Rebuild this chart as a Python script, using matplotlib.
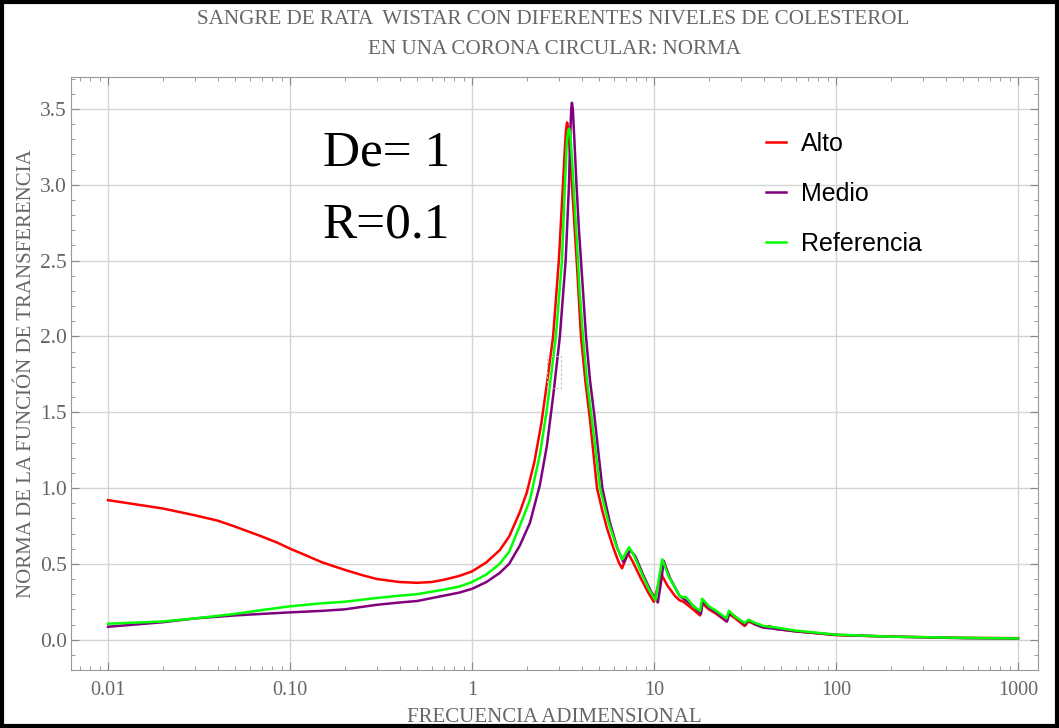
import numpy as np
import matplotlib
matplotlib.use("Agg")
import matplotlib.pyplot as plt
from matplotlib.ticker import FixedLocator, FixedFormatter, LogLocator, NullFormatter, MultipleLocator
from matplotlib.patches import Rectangle

# datos
freq_alto = [0.01, 0.02, 0.03, 0.04, 0.05, 0.06, 0.07, 0.085, 0.1, 0.12, 0.15, 0.2, 0.25, 0.3,
             0.4, 0.5, 0.6, 0.7, 0.85, 1.0, 1.2, 1.42, 1.6, 1.83, 2.0, 2.2, 2.4, 2.58, 2.79,
             3.0, 3.16, 3.24, 3.29, 3.33, 3.38, 3.45, 3.55, 3.66, 3.78, 3.97, 4.2, 4.45,
             4.86, 5.2, 5.5, 6.0, 6.4, 6.67, 7.2, 7.6, 8.5, 9.3, 9.97, 10.5, 11.0, 11.8,
             13.0, 13.8, 14.5, 16.0, 17.9, 18.4, 20.0, 22.0, 25.0, 25.8, 28.0, 31.5, 33.0,
             36.0, 40.0, 43.0, 47.0, 60.0, 100.0, 200.0, 500.0, 1000.0]
norma_alto = [0.92, 0.865, 0.82, 0.785, 0.745, 0.71, 0.68, 0.64, 0.60, 0.56, 0.51, 0.46, 0.425, 0.40,
              0.38, 0.375, 0.38, 0.395, 0.42, 0.45, 0.51, 0.59, 0.68, 0.84, 0.97, 1.17, 1.42, 1.69, 2.0,
              2.5, 3.0, 3.25, 3.37, 3.41, 3.37, 3.22, 2.98, 2.72, 2.45, 2.0, 1.7, 1.45,
              1.0, 0.85, 0.74, 0.6, 0.51, 0.47, 0.57, 0.52, 0.40, 0.31, 0.25, 0.35, 0.43, 0.36,
              0.29, 0.26, 0.25, 0.21, 0.16, 0.24, 0.20, 0.17, 0.12, 0.17, 0.14, 0.09, 0.12,
              0.10, 0.08, 0.09, 0.07, 0.055, 0.03, 0.02, 0.012, 0.01]

freq_medio = [0.01, 0.02, 0.03, 0.05, 0.07, 0.1, 0.15, 0.2, 0.3, 0.4, 0.5, 0.7, 0.85, 1.0, 1.2,
              1.42, 1.6, 1.83, 2.08, 2.36, 2.58, 2.8, 3.04, 3.27, 3.41, 3.47, 3.51, 3.54, 3.58,
              3.65, 3.75, 3.87, 3.97, 4.23, 4.45, 4.7, 5.2, 5.7, 6.3, 6.8, 7.4, 7.9, 8.7, 9.6,
              10.5, 11.0, 11.3, 12.2, 13.8, 14.5, 16.5, 18.1, 18.6, 20.0, 22.0, 25.2, 26.0,
              28.0, 31.8, 33.2, 36.0, 40.0, 47.0, 60.0, 100.0, 200.0, 500.0, 1000.0]
norma_medio = [0.085, 0.115, 0.14, 0.16, 0.17, 0.18, 0.19, 0.20, 0.23, 0.245, 0.255, 0.29, 0.31, 0.335, 0.38,
               0.44, 0.50, 0.62, 0.77, 1.02, 1.28, 1.62, 2.0, 2.5, 3.0, 3.35, 3.5, 3.54, 3.5,
               3.3, 3.0, 2.7, 2.5, 2.0, 1.71, 1.48, 1.0, 0.78, 0.6, 0.51, 0.59, 0.55, 0.43, 0.32,
               0.245, 0.40, 0.52, 0.41, 0.29, 0.27, 0.22, 0.17, 0.26, 0.21, 0.18, 0.12, 0.18,
               0.15, 0.10, 0.13, 0.10, 0.08, 0.07, 0.055, 0.032, 0.02, 0.01, 0.007]

freq_ref = [0.01, 0.02, 0.03, 0.05, 0.07, 0.1, 0.15, 0.2, 0.3, 0.4, 0.5, 0.7, 0.85, 1.0, 1.2,
            1.42, 1.6, 1.83, 2.08, 2.36, 2.58, 2.89, 3.12, 3.24, 3.32, 3.38, 3.42, 3.47, 3.55,
            3.65, 3.78, 3.9, 4.07, 4.28, 4.56, 5.05, 5.6, 6.2, 6.7, 7.3, 7.8, 8.6, 9.4, 10.2,
            10.8, 11.1, 12.0, 13.8, 14.4, 15.0, 16.5, 17.9, 18.4, 20.0, 22.0, 25.0, 25.8,
            28.0, 31.5, 33.0, 36.0, 40.0, 47.0, 60.0, 100.0, 200.0, 500.0, 1000.0]
norma_ref = [0.105, 0.12, 0.14, 0.17, 0.195, 0.22, 0.24, 0.25, 0.275, 0.29, 0.30, 0.33, 0.35, 0.38, 0.43,
             0.50, 0.58, 0.75, 0.92, 1.22, 1.52, 2.0, 2.5, 3.0, 3.28, 3.36, 3.37, 3.33, 3.15,
             2.9, 2.6, 2.3, 2.0, 1.71, 1.45, 1.0, 0.78, 0.62, 0.53, 0.61, 0.55, 0.43, 0.33, 0.26,
             0.45, 0.53, 0.42, 0.29, 0.28, 0.28, 0.22, 0.19, 0.27, 0.22, 0.19, 0.14, 0.19,
             0.15, 0.11, 0.13, 0.11, 0.09, 0.08, 0.06, 0.033, 0.02, 0.012, 0.008]

xtick_vals = [0.01, 0.1, 1, 10, 100, 1000]
xtick_labels = ["0.01", "0.10", "1", "10", "100", "1000"]
ytick_vals = [0.0, 0.5, 1.0, 1.5, 2.0, 2.5, 3.0, 3.5]

gris = "#666666"
serif = ["Liberation Serif", "DejaVu Serif"]

fig = plt.figure(figsize=(10.59, 7.28), dpi=100)
ax = fig.add_axes([71 / 1059, 1 - 670 / 728, (1038 - 71) / 1059, (670 - 77) / 728])

ax.plot(freq_alto, norma_alto, color="#ff0000", lw=1.8, label="Alto")
ax.plot(freq_medio, norma_medio, color="#800080", lw=1.8, label="Medio")
ax.plot(freq_ref, norma_ref, color="#00ff00", lw=1.8, label="Referencia")

ax.set_xscale("log")
ax.set_xlim(0.00626, 1288)
ax.set_ylim(-0.2, 3.71)

ax.xaxis.set_major_locator(FixedLocator(xtick_vals))
ax.xaxis.set_major_formatter(FixedFormatter(xtick_labels))
ax.xaxis.set_minor_locator(LogLocator(base=10, subs=np.arange(2, 10)))
ax.xaxis.set_minor_formatter(NullFormatter())
ax.yaxis.set_major_locator(FixedLocator(ytick_vals))
ax.yaxis.set_minor_locator(MultipleLocator(0.1))

ax.grid(True, which="major", color="#d4d4d4", lw=1.0)
ax.set_axisbelow(True)
ax.tick_params(which="both", direction="in", top=True, right=True, colors="#888888",
               labelcolor=gris)
ax.tick_params(which="major", length=6, width=0.8, labelsize=14.5)
ax.tick_params(axis="y", which="major", labelsize=15.5, pad=3)
ax.tick_params(axis="x", which="major", pad=8)
ax.tick_params(which="minor", length=3, width=0.6)
for lab in ax.get_xticklabels() + ax.get_yticklabels():
    lab.set_family(serif)
for sp in ax.spines.values():
    sp.set_color("#999999")
    sp.set_linewidth(0.8)

ax.set_xlabel("FRECUENCIA ADIMENSIONAL", family=serif, fontsize=15, color=gris, labelpad=6)
ax.set_ylabel("NORMA DE LA FUNCIÓN DE TRANSFERENCIA", family=serif, fontsize=15, color=gris,
              labelpad=3)
fig.text(553 / 1059, 1 - 20 / 728, "SANGRE DE RATA  WISTAR CON DIFERENTES NIVELES DE COLESTEROL",
         family=serif, fontsize=15.2, color=gris, ha="center", va="center")
fig.text(555 / 1059, 1 - 50 / 728, "EN UNA CORONA CIRCULAR: NORMA",
         family=serif, fontsize=15.2, color=gris, ha="center", va="center")

caja = dict(facecolor="white", edgecolor="none", pad=6)
fig.text(323 / 1059, 1 - 165 / 728, "De= 1", family=serif, fontsize=37, color="black",
         ha="left", va="baseline", bbox=caja)
fig.text(323 / 1059, 1 - 238 / 728, "R=0.1", family=serif, fontsize=37, color="black",
         ha="left", va="baseline", bbox=caja)

leg = ax.legend(loc="upper left", bbox_to_anchor=(0.695, 0.945), frameon=False,
                handlelength=0.8, handletextpad=0.6, labelspacing=1.03,
                prop={"family": "Liberation Sans", "size": 18})

# recuadro punteado que aparece en la captura
fig.patches.append(Rectangle((547 / 1059, 1 - 388 / 728), 14 / 1059, 32 / 728,
                             transform=fig.transFigure, fill=False, ls=(0, (2, 2)),
                             ec="#bbbbbb", lw=0.8))
# marco negro de la imagen
fig.patches.append(Rectangle((0.002, 0.003), 0.996, 0.994, transform=fig.transFigure,
                             fill=False, ec="black", lw=3))

fig.savefig("out.png", dpi=100)
